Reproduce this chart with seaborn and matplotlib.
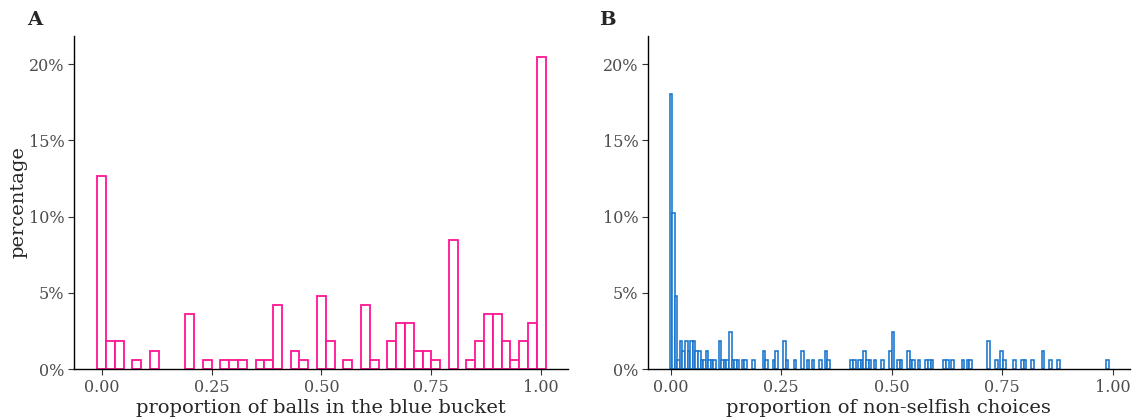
import numpy as np
import pandas as pd
import matplotlib
matplotlib.use("Agg")
import matplotlib.pyplot as plt
import seaborn as sns
from matplotlib.ticker import FuncFormatter

# Panel A: proportion of balls in the blue bucket (value, number of participants)
bucket_prop = [0.00, 0.02, 0.04, 0.08, 0.12, 0.20, 0.24, 0.28, 0.30, 0.32,
               0.36, 0.38, 0.40, 0.44, 0.46, 0.50, 0.52, 0.56, 0.60, 0.62,
               0.66, 0.68, 0.70, 0.72, 0.74, 0.76, 0.80, 0.84, 0.86, 0.88,
               0.90, 0.92, 0.94, 0.96, 0.98, 1.00]
bucket_count = [21, 3, 3, 1, 2, 6, 1, 1, 1, 1,
                1, 1, 7, 2, 1, 8, 3, 1, 7, 1,
                3, 5, 5, 2, 2, 1, 14, 1, 3, 6,
                6, 3, 1, 3, 5, 34]

# Panel B: proportion of non-selfish choices (value, number of participants)
nonselfish_prop = [0.000, 0.006, 0.012, 0.018, 0.023, 0.029, 0.035, 0.041, 0.047, 0.053,
                   0.058, 0.064, 0.070, 0.076, 0.082, 0.088, 0.094, 0.099, 0.111, 0.117,
                   0.123, 0.129, 0.135, 0.140, 0.146, 0.152, 0.164, 0.170, 0.187, 0.211,
                   0.216, 0.234, 0.240, 0.257, 0.263, 0.281, 0.298, 0.310, 0.322, 0.339,
                   0.351, 0.357, 0.409, 0.415, 0.427, 0.433, 0.439, 0.444, 0.450, 0.462,
                   0.480, 0.497, 0.503, 0.515, 0.520, 0.538, 0.544, 0.550, 0.561, 0.579,
                   0.585, 0.591, 0.620, 0.626, 0.637, 0.661, 0.673, 0.678, 0.719, 0.737,
                   0.749, 0.754, 0.778, 0.795, 0.801, 0.819, 0.842, 0.860, 0.877, 0.988]
nonselfish_count = [30, 17, 8, 1, 3, 2, 3, 2, 3, 3,
                    2, 2, 1, 1, 2, 1, 1, 1, 3, 1,
                    1, 1, 4, 1, 1, 1, 1, 1, 1, 2,
                    1, 1, 2, 3, 1, 1, 2, 1, 1, 1,
                    2, 1, 1, 1, 1, 1, 2, 1, 1, 1,
                    1, 2, 4, 1, 1, 2, 1, 1, 1, 1,
                    1, 1, 1, 1, 1, 1, 1, 1, 3, 1,
                    2, 1, 1, 1, 1, 1, 2, 1, 1, 1]

x_ticks = [0.0, 0.25, 0.5, 0.75, 1.0]
x_tick_labels = ["0.00", "0.25", "0.50", "0.75", "1.00"]
y_ticks = [0, 5, 10, 15, 20]

sns.set_style("ticks")
plt.rcParams['font.family'] = ['DejaVu Serif']

fig = plt.figure(figsize=(11.47, 4.19), dpi=100)
axA = fig.add_axes([0.0645, 0.1193, 0.4307, 0.7947])
axB = fig.add_axes([0.565, 0.1193, 0.420, 0.7947])

dfA = pd.DataFrame({"x": bucket_prop, "n": bucket_count})
dfB = pd.DataFrame({"x": nonselfish_prop, "n": nonselfish_count})

wA = 0.02
sns.histplot(data=dfA, x="x", weights="n", stat="percent", binwidth=wA,
             binrange=(-wA / 2, 1 + wA / 2), color="white", edgecolor="#ff1493",
             linewidth=1.3, alpha=1, ax=axA)
wB = 1 / 171
sns.histplot(data=dfB, x="x", weights="n", stat="percent", binwidth=wB,
             binrange=(-wB / 2, 169.5 * wB), color="white", edgecolor="#1874cd",
             linewidth=1.15, alpha=1, ax=axB)

pct = FuncFormatter(lambda v, p: f"{v:.0f}%")
for ax in (axA, axB):
    # empty bins are not drawn as visible marks
    for p in ax.patches:
        if p.get_height() == 0:
            p.set_visible(False)
    sns.despine(ax=ax)
    ax.set_ylim(0, 21.85)
    ax.set_yticks(y_ticks)
    ax.yaxis.set_major_formatter(pct)
    ax.set_xticks(x_ticks)
    ax.set_xticklabels(x_tick_labels)
    ax.tick_params(axis="both", length=4, width=0.8, color="#333333",
                   labelcolor="#4d4d4d", labelsize=11.5, pad=3)
    for s in ("left", "bottom"):
        ax.spines[s].set_color("black")
        ax.spines[s].set_linewidth(1.0)
        ax.spines[s].set_zorder(5)
    ax.grid(False)

axA.set_xlim(-0.063, 1.061)
axB.set_xlim(-0.0515, 1.0385)

axA.set_xlabel("proportion of balls in the blue bucket", fontsize=14, labelpad=2)
axB.set_xlabel("proportion of non-selfish choices", fontsize=14, labelpad=2)
axA.set_ylabel("percentage", fontsize=14, labelpad=1)
axB.set_ylabel("")

fig.text(0.024, 0.953, "A", fontsize=14, fontweight="bold", va="center", ha="left")
fig.text(0.522, 0.953, "B", fontsize=14, fontweight="bold", va="center", ha="left")

fig.savefig("out.png", dpi=100, facecolor="white")
